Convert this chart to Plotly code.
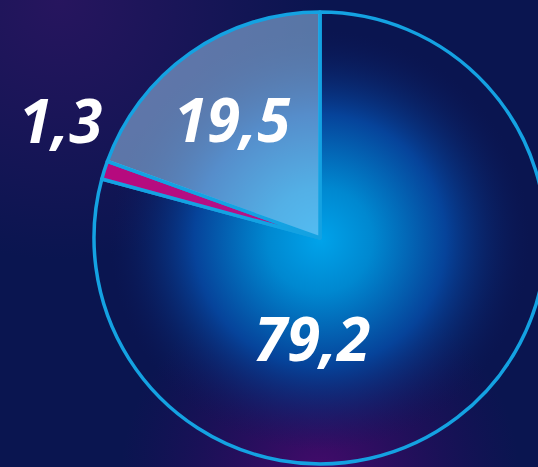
import base64
import plotly.graph_objects as go

# ---- data ----
labels = ["A", "B", "C"]
values = [79.2, 1.3, 19.5]
slice_colors = ["rgba(0,0,0,0)", "rgba(196,10,130,0.92)", "rgba(165,215,252,0.5)"]

W, H = 560, 467

def fmt(v):
    return f"{v:.1f}".replace(".", ",")

# background shading (radial glows) as an SVG image
svg = f"""<svg xmlns='http://www.w3.org/2000/svg' width='{W}' height='{H}' viewBox='0 0 {W} {H}'>
<defs>
<radialGradient id='g1' cx='320' cy='240' r='210' gradientUnits='userSpaceOnUse'>
<stop offset='0' stop-color='#00a3ea'/>
<stop offset='0.25' stop-color='#0088d0'/>
<stop offset='0.6' stop-color='#06439a'/>
<stop offset='1' stop-color='#0b1a5c' stop-opacity='0'/>
</radialGradient>
<radialGradient id='g2' cx='320' cy='480' r='200' gradientUnits='userSpaceOnUse'>
<stop offset='0' stop-color='#4a0a6e' stop-opacity='0.95'/>
<stop offset='1' stop-color='#2a0a5e' stop-opacity='0'/>
</radialGradient>
<radialGradient id='g3' cx='60' cy='0' r='260' gradientUnits='userSpaceOnUse'>
<stop offset='0' stop-color='#2a1560' stop-opacity='0.9'/>
<stop offset='1' stop-color='#2a1560' stop-opacity='0'/>
</radialGradient>
</defs>
<rect width='{W}' height='{H}' fill='#0a1550'/>
<rect width='{W}' height='{H}' fill='url(#g3)'/>
<rect width='{W}' height='{H}' fill='url(#g2)'/>
<rect width='{W}' height='{H}' fill='url(#g1)'/>
</svg>"""
src = "data:image/svg+xml;base64," + base64.b64encode(svg.encode()).decode()

cx, cy, r = 320, 238, 226
fig = go.Figure(go.Pie(
    labels=labels, values=values, sort=False, direction="clockwise", rotation=0,
    marker=dict(colors=slice_colors, line=dict(color="#14a2e2", width=3.5)),
    textinfo="none", hoverinfo="skip", showlegend=False,
    domain=dict(x=[(cx - r) / W, (cx + r) / W], y=[1 - (cy + r) / H, 1 - (cy - r) / H]),
))

label_pos = [(312 / W, 1 - 338 / H), (60 / W, 1 - 120 / H), (232 / W, 1 - 119 / H)]
for v, (x, y) in zip(values, label_pos):
    fig.add_annotation(x=x, y=y, xref="paper", yref="paper", text=fmt(v), showarrow=False,
                       xanchor="center", yanchor="middle",
                       font=dict(family="Open Sans", size=60, color="white", weight="bold", style="italic"))

fig.update_layout(
    width=W, height=H, autosize=False,
    margin=dict(l=0, r=0, t=0, b=0),
    paper_bgcolor="#0a1550", plot_bgcolor="#0a1550",
    images=[dict(source=src, xref="paper", yref="paper", x=0, y=1, sizex=1, sizey=1,
                 sizing="stretch", xanchor="left", yanchor="top", layer="below")],
)

fig.write_html("out.html", config={"displayModeBar": False},
               post_script="document.body.style.margin='0';document.body.style.overflow='hidden';document.documentElement.style.overflow='hidden';")
